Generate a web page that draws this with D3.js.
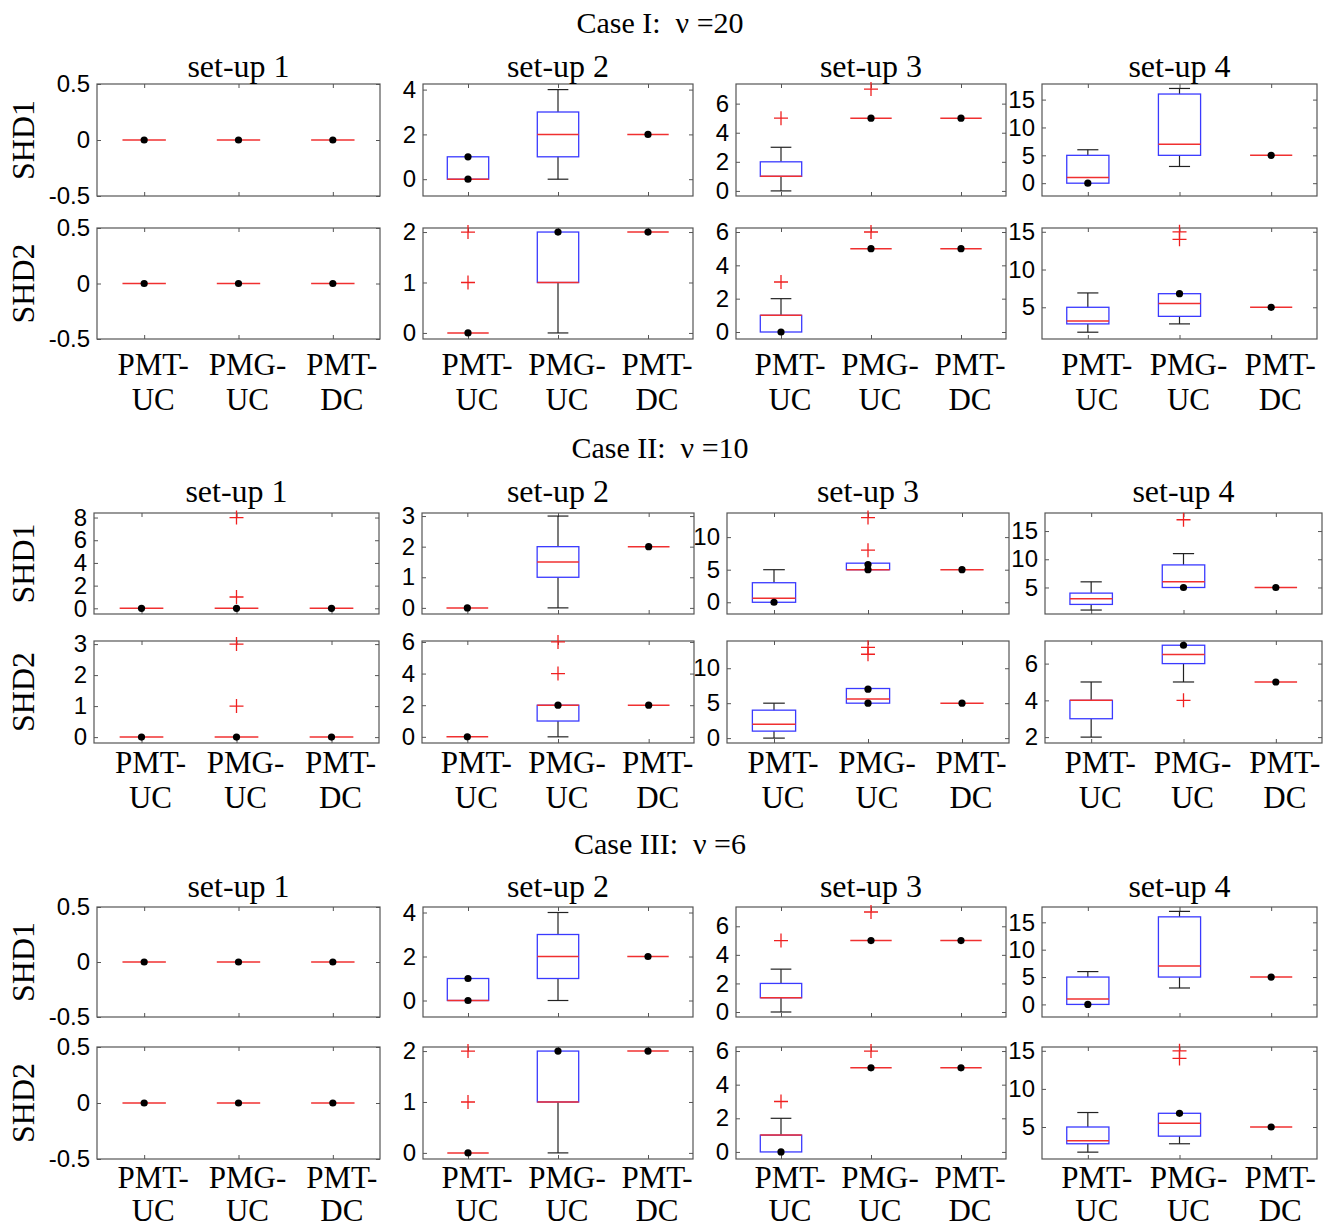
<!DOCTYPE html>
<html>
<head>
<meta charset="UTF-8">
<title>SHD boxplots</title>
<script src="https://cdn.jsdelivr.net/npm/d3@7"></script>
<style>
  body { margin: 0; background: #fff; }
  .serif { font-family: "Liberation Serif", "Times New Roman", serif; }
  .tick text { font-family: "Liberation Sans", Arial, sans-serif; font-size: 24px; fill: #000; }
</style>
</head>
<body>
<script>
// categories and titles
var methods = ["PMT-UC", "PMG-UC", "PMT-DC"];
var setups = ["set-up 1", "set-up 2", "set-up 3", "set-up 4"];
var caseTitles = ["Case I:\u00a0\u00a0\u03bd =20", "Case II:\u00a0\u00a0\u03bd =10", "Case III:\u00a0\u00a0\u03bd =6"];
var rowNames = ["SHD1", "SHD2"];

// box stats per [setup][method]: [lower whisker, q1, median, q3, upper whisker]
var boxI_SHD1 = [
  [[0,0,0,0,0],[0,0,0,0,0],[0,0,0,0,0]],
  [[0,0,0,1,1],[0,1,2,3,4],[2,2,2,2,2]],
  [[0,1,1,2,3],[5,5,5,5,5],[5,5,5,5,5]],
  [[0,0,1,5,6],[3,5,7,16,17],[5,5,5,5,5]]
];
var outI_SHD1 = [[[],[],[]],[[],[],[]],[[5],[7],[]],[[],[],[]]];
var dotI_SHD1 = [[[0],[0],[0]],[[0,1],[],[2]],[[],[5],[5]],[[0],[],[5]]];

var boxI_SHD2 = [
  [[0,0,0,0,0],[0,0,0,0,0],[0,0,0,0,0]],
  [[0,0,0,0,0],[0,1,1,2,2],[2,2,2,2,2]],
  [[0,0,1,1,2],[5,5,5,5,5],[5,5,5,5,5]],
  [[1.7,2.8,3.2,5,6.9],[2.8,3.8,5.5,6.8,6.8],[5,5,5,5,5]]
];
var outI_SHD2 = [[[],[],[]],[[1,2],[],[]],[[3],[6],[]],[[],[14,15],[]]];
var dotI_SHD2 = [[[0],[0],[0]],[[0],[2],[2]],[[0],[5],[5]],[[],[6.8],[5]]];

var boxII_SHD1 = [
  [[0,0,0,0,0],[0,0,0,0,0],[0,0,0,0,0]],
  [[0,0,0,0,0],[0,1,1.5,2,3],[2,2,2,2,2]],
  [[0,0,0.6,3,5],[5,5,5,6,6],[5,5,5,5,5]],
  [[1,2,3,4,6],[5,5,6,9,11],[5,5,5,5,5]]
];
var outII_SHD1 = [[[],[1,8],[]],[[],[],[]],[[],[8,13],[]],[[],[17],[]]];
var dotII_SHD1 = [[[0],[0],[0]],[[0],[],[2]],[[0],[5,5.8],[5]],[[],[5],[5]]];

var boxII_SHD2 = [
  [[0,0,0,0,0],[0,0,0,0,0],[0,0,0,0,0]],
  [[0,0,0,0,0],[0,1,2,2,2],[2,2,2,2,2]],
  [[0,1,2,4,5],[5,5,5.6,7.1,7.1],[5,5,5,5,5]],
  [[2,3,4,4,5],[5,6,6.5,7,7],[5,5,5,5,5]]
];
var outII_SHD2 = [[[],[1,3],[]],[[],[4,6],[]],[[],[12,13],[]],[[],[4],[]]];
var dotII_SHD2 = [[[0],[0],[0]],[[0],[2],[2]],[[],[5,7],[5]],[[],[7],[5]]];

// y limits and ticks per [setup][row]
var domI = [
  [[-0.5,0.5],[-0.5,0.5]],
  [[-0.75,4.25],[-0.12,2.08]],
  [[-0.35,7.35],[-0.42,6.24]],
  [[-2.3,17.8],[0.8,15.5]]
];
var ticksI = [
  [[-0.5,0,0.5],[-0.5,0,0.5]],
  [[0,2,4],[0,1,2]],
  [[0,2,4,6],[0,2,4,6]],
  [[0,5,10,15],[5,10,15]]
];
var domII = [
  [[-0.5,8.4],[-0.19,3.1]],
  [[-0.2,3.1],[-0.39,6.06]],
  [[-1.8,13.7],[-0.7,13.9]],
  [[0.3,18.2],[1.68,7.23]]
];
var ticksII = [
  [[0,2,4,6,8],[0,1,2,3]],
  [[0,1,2,3],[0,2,4,6]],
  [[0,5,10],[0,5,10]],
  [[5,10,15],[2,4,6]]
];

// case III shows the same results as case I
var boxes = [[boxI_SHD1, boxI_SHD2], [boxII_SHD1, boxII_SHD2], [boxI_SHD1, boxI_SHD2]];
var outs  = [[outI_SHD1, outI_SHD2], [outII_SHD1, outII_SHD2], [outI_SHD1, outI_SHD2]];
var dots  = [[dotI_SHD1, dotI_SHD2], [dotII_SHD1, dotII_SHD2], [dotI_SHD1, dotI_SHD2]];
var doms  = [domI, domII, domI];
var ticks = [ticksI, ticksII, ticksI];

// layout
var colX = [
  [[97,380],[423,693],[736,1006],[1042,1317]],
  [[94,379],[422,694],[727,1009],[1045,1322]],
  [[97,380],[423,693],[736,1006],[1042,1317]]
];
var rowY = [
  [[84,196],[228,339]],
  [[513,614],[641,743]],
  [[907,1017],[1047,1159]]
];
var caseTitleY = [33, 458, 854];
var setupTitleY = [77, 502, 897];
var labelDy = [[36, 71], [30, 65], [29, 62]];

var svg = d3.select("body").append("svg")
  .attr("width", 1329).attr("height", 1228);

var boxW = 0.46;

caseTitles.forEach(function (title, c) {
  svg.append("text").attr("class", "serif")
    .attr("x", 660).attr("y", caseTitleY[c])
    .attr("text-anchor", "middle").attr("font-size", 30)
    .text(title);

  rowNames.forEach(function (rn, r) {
    var y0 = rowY[c][r][0], y1 = rowY[c][r][1];
    // row label
    svg.append("text").attr("class", "serif")
      .attr("transform", "translate(34," + ((y0 + y1) / 2) + ")rotate(-90)")
      .attr("text-anchor", "middle").attr("font-size", 32)
      .text(rn);

    setups.forEach(function (su, s) {
      var x0 = colX[c][s][0], x1 = colX[c][s][1];
      var x = d3.scaleLinear().domain([0.5, 3.5]).range([x0, x1]);
      var y = d3.scaleLinear().domain(doms[c][s][r]).range([y1, y0]);
      var g = svg.append("g");

      if (r === 0) {
        svg.append("text").attr("class", "serif")
          .attr("x", (x0 + x1) / 2).attr("y", setupTitleY[c])
          .attr("text-anchor", "middle").attr("font-size", 32)
          .text(su);
      }

      // axes with inward ticks
      var tv = ticks[c][s][r];
      g.append("g").attr("transform", "translate(" + x0 + ",0)")
        .call(d3.axisLeft(y).tickValues(tv).tickSizeInner(-4).tickSizeOuter(0).tickPadding(7)
          .tickFormat(function (d) { return String(d); }));
      g.append("g").attr("transform", "translate(" + x1 + ",0)")
        .call(d3.axisRight(y).tickValues(tv).tickSizeInner(-4).tickSizeOuter(0).tickFormat(""));
      g.append("g").attr("transform", "translate(0," + y1 + ")")
        .call(d3.axisBottom(x).tickValues([1, 2, 3]).tickSizeInner(-4).tickSizeOuter(0).tickFormat(""));
      g.append("g").attr("transform", "translate(0," + y0 + ")")
        .call(d3.axisTop(x).tickValues([1, 2, 3]).tickSizeInner(-4).tickSizeOuter(0).tickFormat(""));
      g.selectAll(".domain").remove();
      g.selectAll(".tick line").attr("stroke", "#555");
      g.append("rect").attr("x", x0).attr("y", y0)
        .attr("width", x1 - x0).attr("height", y1 - y0)
        .attr("fill", "none").attr("stroke", "#555").attr("stroke-width", 1.2);

      // boxes
      boxes[c][r][s].forEach(function (b, m) {
        var cx = m + 1;
        var bx0 = x(cx - boxW / 2), bx1 = x(cx + boxW / 2);
        var cxp = x(cx);
        var capHalf = (bx1 - bx0) / 4;
        var wk = g.append("g").attr("stroke", "#222").attr("stroke-width", 1.2);
        if (b[4] > b[3]) {
          wk.append("line").attr("x1", cxp).attr("x2", cxp).attr("y1", y(b[3])).attr("y2", y(b[4]));
          wk.append("line").attr("x1", cxp - capHalf).attr("x2", cxp + capHalf).attr("y1", y(b[4])).attr("y2", y(b[4]));
        }
        if (b[0] < b[1]) {
          wk.append("line").attr("x1", cxp).attr("x2", cxp).attr("y1", y(b[1])).attr("y2", y(b[0]));
          wk.append("line").attr("x1", cxp - capHalf).attr("x2", cxp + capHalf).attr("y1", y(b[0])).attr("y2", y(b[0]));
        }
        if (b[3] > b[1]) {
          g.append("rect").attr("x", bx0).attr("y", y(b[3]))
            .attr("width", bx1 - bx0).attr("height", y(b[1]) - y(b[3]))
            .attr("fill", "none").attr("stroke", "#3a3aff").attr("stroke-width", 1.3);
        }
        g.append("line").attr("x1", bx0).attr("x2", bx1)
          .attr("y1", y(b[2])).attr("y2", y(b[2]))
          .attr("stroke", "#f03030").attr("stroke-width", 1.5);

        outs[c][r][s][m].forEach(function (v) {
          var py = y(v);
          g.append("path")
            .attr("d", "M" + (cxp - 7) + "," + py + "H" + (cxp + 7) + "M" + cxp + "," + (py - 7) + "V" + (py + 7))
            .attr("stroke", "#f02020").attr("stroke-width", 1.3).attr("fill", "none");
        });
        dots[c][r][s][m].forEach(function (v) {
          g.append("circle").attr("cx", cxp).attr("cy", y(v)).attr("r", 3.6).attr("fill", "#000");
        });

        // category labels under the lower row
        if (r === 1) {
          var parts = methods[m].split("-");
          var t = svg.append("text").attr("class", "serif")
            .attr("text-anchor", "middle").attr("font-size", 31);
          t.append("tspan").attr("x", cxp + 9).attr("y", y1 + labelDy[c][0]).text(parts[0] + "-");
          t.append("tspan").attr("x", cxp + 9).attr("y", y1 + labelDy[c][1]).text(parts[1]);
        }
      });
    });
  });
});
</script>
</body>
</html>
